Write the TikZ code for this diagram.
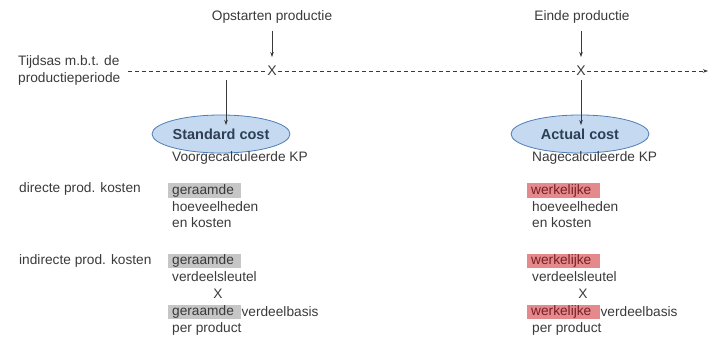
\documentclass[tikz,border=0pt]{standalone}
\usepackage{fontspec}
\setmainfont{Liberation Sans}
\usetikzlibrary{shapes.geometric,arrows.meta}
\definecolor{txt}{HTML}{3A3A3A}
\definecolor{ellfill}{HTML}{C5DAF0}
\definecolor{elldraw}{HTML}{4F7DB5}
\definecolor{elltext}{HTML}{2E3F55}
\definecolor{grayhl}{HTML}{C6C6C6}
\definecolor{redhl}{HTML}{E48A8C}
\definecolor{redtxt}{HTML}{7A1E24}
\tikzset{
  lbl/.style={font=\fontsize{13.7}{17}\selectfont, text=txt, inner sep=0pt, anchor=west},
  ctr/.style={font=\fontsize{13.7}{17}\selectfont, text=txt, inner sep=0pt},
  ell/.style={ellipse, draw=elldraw, fill=ellfill, line width=0.8pt, minimum width=138pt, minimum height=38pt, inner sep=0pt, font=\fontsize{14.5}{16}\selectfont\bfseries, text=elltext},
  ghl/.style={lbl, fill=grayhl, inner xsep=4pt, inner ysep=1pt, text width=65pt, align=left},
  rhl/.style={lbl, fill=redhl, text=redtxt, inner xsep=4pt, inner ysep=1pt, text width=65pt, align=left},
  arr/.style={-{Stealth[length=5pt,width=3.5pt]}, line width=0.6pt, draw=txt},
  dsh/.style={dashed, dash pattern=on 4pt off 3pt, line width=0.6pt, draw=txt}
}
\begin{document}
\begin{tikzpicture}[x=1pt,y=-1pt]
\useasboundingbox (0,0) rectangle (712,339);
% top labels
\node[ctr] (start) at (272,17) {Opstarten productie};
\node[ctr] (einde) at (582,17) {Einde productie};
\node[lbl, align=left, anchor=west] (tijd) at (18,70) {Tijdsas m.b.t. de\\[0pt]productieperiode};
% time axis
\coordinate (axs) at (128,71);
\coordinate (axe) at (708,71);
\node[ctr, font=\fontsize{14}{14}\selectfont, inner xsep=1pt] (x1) at (272,71) {X};
\node[ctr, font=\fontsize{14}{14}\selectfont, inner xsep=1pt] (x2) at (581,71) {X};
\draw[dsh] (axs) -- (x1.west);
\draw[dsh] (x1.east) -- (x2.west);
\draw[dsh, -{Stealth[length=5pt,width=3.5pt]}] (x2.east) -- (axe);
\coordinate (a1s) at (272,31);
\coordinate (a1e) at (272,57);
\coordinate (a2s) at (581,31);
\coordinate (a2e) at (581,57);
\draw[arr] (a1s) -- (a1e);
\draw[arr] (a2s) -- (a2e);
% ellipses
\node[ell] (std) at (221,134) {Standard cost};
\node[ell] (act) at (580,134) {Actual cost};
\coordinate (s1) at (226,80);
\coordinate (s1e) at (226,125);
\coordinate (s2) at (581,80);
\coordinate (s2e) at (581,125);
\draw[arr] (s1) -- (s1e);
\draw[arr] (s2) -- (s2e);
% headers
\node[lbl] (vk) at (172,158) {Voorgecalculeerde KP};
\node[lbl] (nk) at (532,158) {Nagecalculeerde KP};
% row labels
\node[lbl] (dpk) at (19,189) {directe prod. kosten};
\node[lbl] (ipk) at (19,261) {indirecte prod. kosten};
% left column
\node[ghl] (g1) at (168,190.5) {geraamde};
\node[lbl] (h1) at (172,207) {hoeveelheden};
\node[lbl] (k1) at (172,223) {en kosten};
\node[ghl] (g2) at (168,261) {geraamde};
\node[lbl] (v1) at (172,277) {verdeelsleutel};
\node[ctr] (m1) at (218,294) {X};
\node[ghl] (g3) at (168,312) {geraamde};
\node[lbl] (b1) at (g3.east) {verdeelbasis};
\node[lbl] (p1) at (172,329) {per product};
% right column
\node[rhl] (r1) at (527,190.5) {werkelijke};
\node[lbl] (h2) at (532,207) {hoeveelheden};
\node[lbl] (k2) at (532,223) {en kosten};
\node[rhl] (r2) at (527,261) {werkelijke};
\node[lbl] (v2) at (532,277) {verdeelsleutel};
\node[ctr] (m2) at (583,294) {X};
\node[rhl] (r3) at (527,312) {werkelijke};
\node[lbl] (b2) at (r3.east) {verdeelbasis};
\node[lbl] (p2) at (532,329) {per product};
\end{tikzpicture}
\end{document}
